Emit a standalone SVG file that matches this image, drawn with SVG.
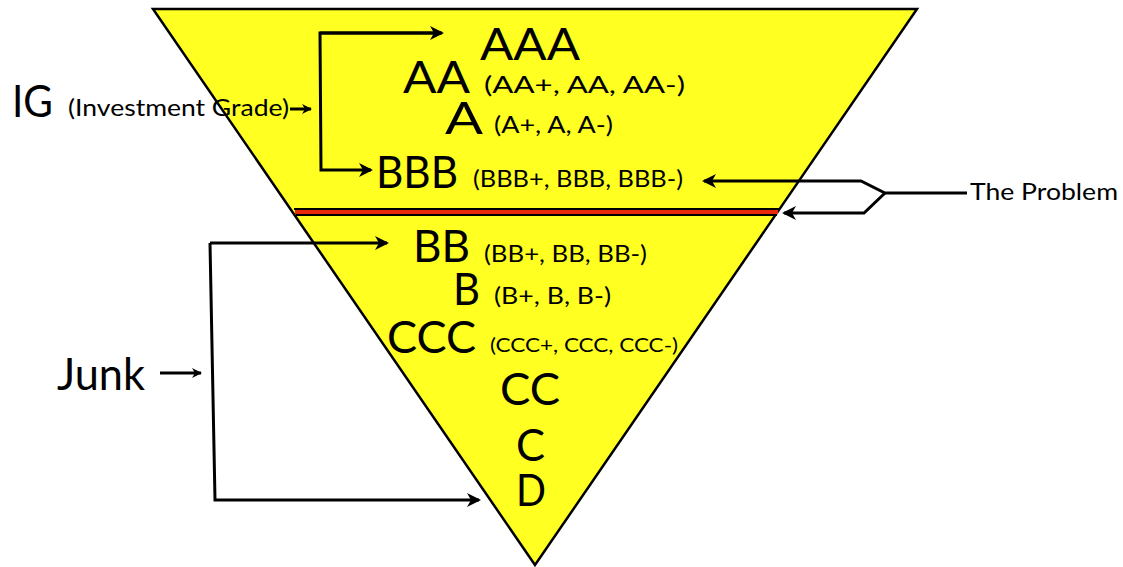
<svg xmlns="http://www.w3.org/2000/svg" width="1123" height="567" viewBox="0 0 1123 567">
<style>
text{font-family:Lato,"Open Sans","DejaVu Sans",sans-serif;fill:#000}
.big{font-size:45px}
.mid{font-size:44px}
.sm{font-size:24px}
.xs{font-size:20px}
.ln{fill:none;stroke:#000;stroke-width:3}
</style>
<defs>
<marker id="ah" markerWidth="10" markerHeight="10" refX="9" refY="5" orient="auto" markerUnits="userSpaceOnUse" viewBox="0 0 10 10">
<path d="M0,0 L10,5 L0,10 L3,5 Z" fill="#000"/>
</marker>
<marker id="ahb" markerWidth="14" markerHeight="14" refX="12" refY="7" orient="auto" markerUnits="userSpaceOnUse" viewBox="0 0 14 14">
<path d="M0,0 L14,7 L0,14 L4,7 Z" fill="#000"/>
</marker>
</defs>
<g id="pyramid">
<polygon points="153,9 917,9 535,565" fill="#FFFF22" stroke="#000" stroke-width="2.5"/>
<line x1="294" y1="209" x2="780" y2="209" stroke="#000" stroke-width="2"/>
<line x1="296" y1="215" x2="777" y2="215" stroke="#000" stroke-width="2"/>
<line x1="295" y1="212" x2="778" y2="212" stroke="#E8290B" stroke-width="4"/>
</g>
<g id="ratings" lengthAdjust="spacingAndGlyphs">
<text class="big" x="480" y="60" textLength="100" lengthAdjust="spacingAndGlyphs">AAA</text>
<text class="big" x="403" y="93" textLength="67" lengthAdjust="spacingAndGlyphs">AA</text>
<text class="sm" x="484" y="93" textLength="201" lengthAdjust="spacingAndGlyphs">(AA+, AA, AA-)</text>
<text class="big" x="445" y="134" textLength="38" lengthAdjust="spacingAndGlyphs">A</text>
<text class="sm" x="494" y="133" textLength="119" lengthAdjust="spacingAndGlyphs">(A+, A, A-)</text>
<text class="big" x="376" y="188" textLength="82" lengthAdjust="spacingAndGlyphs">BBB</text>
<text class="sm" x="473" y="187" textLength="210" lengthAdjust="spacingAndGlyphs">(BBB+, BBB, BBB-)</text>
<text class="big" x="413" y="262" textLength="57" lengthAdjust="spacingAndGlyphs">BB</text>
<text class="sm" x="484" y="262" textLength="163" lengthAdjust="spacingAndGlyphs">(BB+, BB, BB-)</text>
<text class="big" x="453" y="305" textLength="27" lengthAdjust="spacingAndGlyphs">B</text>
<text class="sm" x="494" y="304" textLength="117" lengthAdjust="spacingAndGlyphs">(B+, B, B-)</text>
<text class="big" x="387" y="353" textLength="89" lengthAdjust="spacingAndGlyphs">CCC</text>
<text class="xs" x="490" y="352" textLength="188" lengthAdjust="spacingAndGlyphs">(CCC+, CCC, CCC-)</text>
<text class="big" x="500" y="405" textLength="60" lengthAdjust="spacingAndGlyphs">CC</text>
<text class="big" x="516" y="461" textLength="29" lengthAdjust="spacingAndGlyphs">C</text>
<text class="big" x="516" y="506" textLength="30" lengthAdjust="spacingAndGlyphs">D</text>
</g>
<g id="ig-label">
<text class="mid" x="12" y="117" textLength="41" lengthAdjust="spacingAndGlyphs">IG</text>
<text class="sm" x="68" y="116" textLength="221" lengthAdjust="spacingAndGlyphs">(Investment Grade)</text>
</g>
<g id="junk-label">
<text class="mid" x="57" y="390" textLength="88" lengthAdjust="spacingAndGlyphs">Junk</text>
</g>
<g id="problem-label">
<text class="sm" x="970" y="200" textLength="148" lengthAdjust="spacingAndGlyphs">The Problem</text>
</g>
<g id="connectors">
<line class="ln" x1="290" y1="109" x2="311" y2="109" marker-end="url(#ah)"/>
<polyline class="ln" points="441,33 320,33 321,170 371,170" marker-end="url(#ahb)"/>
<line class="ln" x1="320" y1="33" x2="442" y2="33" marker-end="url(#ahb)"/>
<line class="ln" x1="160" y1="373" x2="201" y2="373" marker-end="url(#ah)"/>
<polyline class="ln" points="210,243 387,243" marker-end="url(#ahb)"/>
<polyline class="ln" points="210,243 215,500 479,500" marker-end="url(#ahb)"/>
<polyline class="ln" points="967,193 885,193 861,181 704,181" marker-end="url(#ahb)"/>
<polyline class="ln" points="885,193 864,213 784,213" marker-end="url(#ahb)"/>
</g>
</svg>
